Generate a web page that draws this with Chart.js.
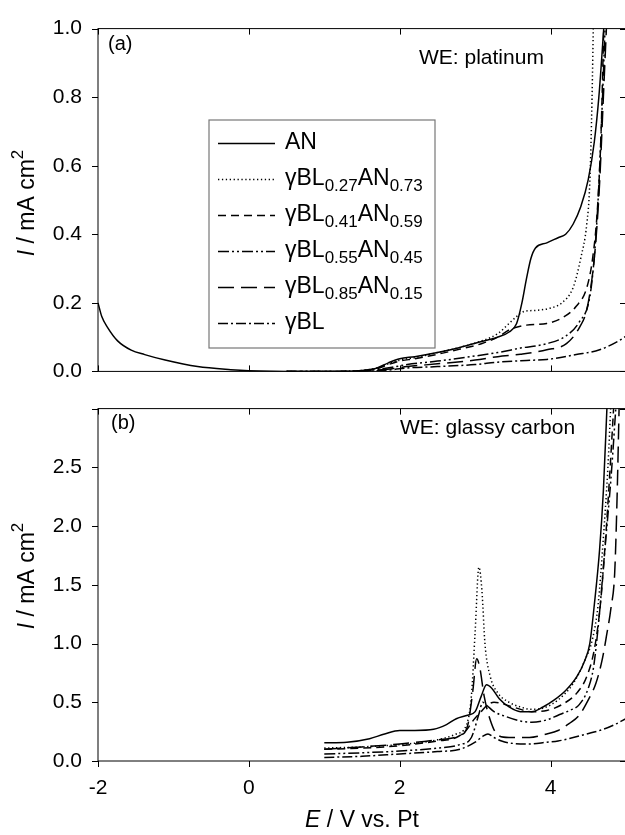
<!DOCTYPE html>
<html>
<head>
<meta charset="utf-8">
<script src="https://cdn.jsdelivr.net/npm/chart.js@4.4.1/dist/chart.umd.min.js"></script>
<style>
  html, body { margin: 0; padding: 0; background: #fff; overflow: hidden; }
  #wrap { position: relative; width: 625px; height: 835px; overflow: hidden; }
  canvas { position: absolute; left: 0; }
</style>
</head>
<body>
<div id="wrap">
  <canvas id="panelA" width="632" height="400" style="top:0"></canvas>
  <canvas id="panelB" width="632" height="455" style="top:380px"></canvas>
</div>
<script>
/* データ */
const xTicks = [-2, 0, 2, 4];
const yTicksA = [0, 0.2, 0.4, 0.6, 0.8, 1.0];
const yTicksB = [0, 0.5, 1.0, 1.5, 2.0, 2.5, 3.0];

const seriesLabels = ['AN', 'γBL_{0.27}AN_{0.73}', 'γBL_{0.41}AN_{0.59}',
                      'γBL_{0.55}AN_{0.45}', 'γBL_{0.85}AN_{0.15}', 'γBL'];

// (a) WE: platinum
const E_AN_a = [-2,-1.95,-1.87,-1.74,-1.56,-1.38,-1.11,-0.68,-0.24,0,0.65,1.2,1.5,1.7,1.85,2.0,2.2,2.5,2.8,3.1,3.3,3.45,3.55,3.62,3.68,3.74,3.8,3.95,4.1,4.2,4.3,4.4,4.5,4.58,4.64,4.68,4.72];
const I_AN_a = [0.20,0.16,0.127,0.089,0.062,0.049,0.033,0.014,0.005,0.002,0.0,0.0,0.003,0.01,0.025,0.037,0.043,0.055,0.07,0.088,0.10,0.115,0.14,0.20,0.27,0.33,0.36,0.375,0.39,0.40,0.43,0.48,0.56,0.67,0.80,0.92,1.05];
const E_27_a = [0.5,1.2,1.5,1.7,1.85,2.0,2.2,2.5,2.8,3.1,3.3,3.45,3.55,3.65,3.8,4.0,4.15,4.3,4.4,4.48,4.52,4.55,4.57];
const I_27_a = [0,0,0.003,0.01,0.022,0.033,0.04,0.055,0.07,0.09,0.11,0.14,0.16,0.175,0.178,0.185,0.2,0.245,0.33,0.43,0.55,0.8,1.05];
const E_41_a = [0.5,1.2,1.5,1.7,1.85,2.0,2.2,2.5,2.8,3.1,3.3,3.46,3.68,3.95,4.16,4.34,4.48,4.56,4.62,4.67,4.71];
const I_41_a = [0,0,0.002,0.008,0.02,0.03,0.037,0.05,0.065,0.082,0.1,0.122,0.135,0.14,0.157,0.19,0.244,0.334,0.47,0.7,1.05];
const E_55_a = [0.5,1.3,1.6,1.9,2.1,2.5,3.0,3.3,3.6,3.95,4.2,4.38,4.52,4.58,4.63,4.68,4.73];
const I_55_a = [0,0,0.003,0.012,0.02,0.03,0.045,0.055,0.068,0.081,0.103,0.144,0.217,0.334,0.5,0.75,1.05];
const E_85_a = [0.5,1.3,1.6,1.9,2.1,2.5,3.0,3.3,3.6,3.95,4.21,4.38,4.48,4.56,4.6,4.65,4.7,4.75];
const I_85_a = [0,0,0.002,0.008,0.014,0.022,0.033,0.043,0.05,0.063,0.081,0.127,0.18,0.29,0.38,0.55,0.8,1.05];
const E_BL_a = [0.5,1.3,1.6,1.9,2.1,2.5,3.0,3.3,3.68,3.95,4.34,4.65,4.91,5.0];
const I_BL_a = [0,0,0.001,0.005,0.01,0.014,0.02,0.027,0.032,0.035,0.049,0.063,0.09,0.103];

// (b) WE: glassy carbon
const E_AN_b = [1.0,1.3,1.6,1.8,2.0,2.2,2.45,2.62,2.75,2.9,3.0,3.08,3.15,3.22,3.32,3.45,3.6,3.75,3.9,4.05,4.2,4.35,4.45,4.52,4.58,4.65,4.7,4.75];
const I_AN_b = [0.155,0.16,0.19,0.23,0.26,0.26,0.27,0.31,0.36,0.39,0.42,0.55,0.65,0.62,0.53,0.46,0.42,0.42,0.46,0.52,0.6,0.72,0.85,1.0,1.33,1.8,2.3,3.05];
const E_27_b = [1.0,1.5,2.0,2.5,2.75,2.88,2.95,3.0,3.05,3.09,3.13,3.2,3.3,3.45,3.6,3.75,3.9,4.1,4.3,4.45,4.56,4.63,4.7,4.76,4.8];
const I_27_b = [0.11,0.12,0.14,0.18,0.23,0.3,0.55,1.1,1.65,1.45,1.0,0.72,0.58,0.5,0.46,0.44,0.45,0.52,0.66,0.85,1.05,1.33,1.9,2.5,3.05];
const E_41_b = [1.0,1.5,2.0,2.5,2.75,2.88,2.98,3.08,3.15,3.25,3.4,3.55,3.75,3.95,4.15,4.35,4.48,4.58,4.66,4.73,4.79,4.84];
const I_41_b = [0.1,0.11,0.13,0.17,0.2,0.26,0.35,0.42,0.47,0.5,0.48,0.45,0.42,0.43,0.48,0.58,0.72,0.95,1.33,1.9,2.5,3.05];
const E_55_b = [1.0,1.5,2.0,2.5,2.8,2.95,3.05,3.1,3.16,3.25,3.4,3.6,3.75,3.95,4.1,4.25,4.38,4.5,4.57,4.64,4.72,4.8,4.87];
const I_55_b = [0.06,0.07,0.085,0.11,0.14,0.2,0.4,0.5,0.47,0.42,0.38,0.34,0.33,0.35,0.39,0.43,0.48,0.62,0.8,1.2,1.8,2.4,3.05];
const E_85_b = [1.0,1.5,2.0,2.5,2.8,2.9,2.97,3.02,3.06,3.12,3.2,3.3,3.45,3.72,3.95,4.1,4.25,4.38,4.5,4.6,4.68,4.74,4.8,4.85,4.88,4.91];
const I_85_b = [0.1,0.12,0.145,0.18,0.22,0.3,0.6,0.87,0.8,0.55,0.35,0.22,0.2,0.2,0.23,0.26,0.32,0.39,0.52,0.66,0.85,1.06,1.3,1.6,2.2,3.05];
const E_BL_b = [1.0,1.5,2.0,2.5,2.8,3.0,3.1,3.17,3.25,3.35,3.5,3.72,3.95,4.1,4.3,4.48,4.7,4.85,5.0];
const I_BL_b = [0.03,0.04,0.06,0.08,0.1,0.16,0.21,0.23,0.2,0.17,0.15,0.145,0.16,0.17,0.2,0.23,0.27,0.31,0.36];

/* 線種 */
const dashes = [[], [1.3, 2.6], [8, 5], [11, 3, 2, 3, 2, 3], [16, 7], [10, 3, 2, 3]];
const FONT = '"Liberation Sans", Arial, Helvetica, sans-serif';

function pts(E, I) {
    return E.map((e, i) => ({ x: e, y: I[i] }));
}

function makeSets(pairs) {
    return pairs.map(([E, I], k) => ({
        label: seriesLabels[k],
        data: pts(E, I),
        borderColor: '#000',
        borderWidth: 1.5,
        borderDash: dashes[k],
        pointRadius: 0,
        cubicInterpolationMode: 'monotone',
        fill: false
    }));
}

/* 'γBL_{0.27}AN_{0.73}' -> 部分ごとの配列 */
function parseRich(str) {
    const out = [];
    const re = /_\{([^}]*)\}|\^\{([^}]*)\}|\*([^*]*)\*|([^_^*]+)/g;
    let m;
    while ((m = re.exec(str))) {
        if (m[1] !== undefined) out.push({ t: m[1], mode: 'sub' });
        else if (m[2] !== undefined) out.push({ t: m[2], mode: 'sup' });
        else if (m[3] !== undefined) out.push({ t: m[3], mode: 'it' });
        else out.push({ t: m[4], mode: '' });
    }
    return out;
}

function drawRich(ctx, str, x, y, size, align) {
    const parts = parseRich(str);
    const small = Math.round(size * 0.72);
    const fontOf = p => (p.mode === 'it' ? 'italic ' : '') +
        ((p.mode === 'sub' || p.mode === 'sup') ? small : size) + 'px ' + FONT;
    let w = 0;
    parts.forEach(p => { ctx.font = fontOf(p); w += ctx.measureText(p.t).width; });
    let cx = align === 'center' ? x - w / 2 : x;
    ctx.textBaseline = 'middle';
    ctx.textAlign = 'left';
    parts.forEach(p => {
        ctx.font = fontOf(p);
        let dy = 0;
        if (p.mode === 'sub') dy = size * 0.33;
        if (p.mode === 'sup') dy = -size * 0.42;
        ctx.fillText(p.t, cx, y + dy);
        cx += ctx.measureText(p.t).width;
    });
}

/* 枠と目盛り */
const framePlugin = {
    id: 'frame',
    afterDraw(chart, args, opts) {
        const { ctx, chartArea: a, scales: { x, y } } = chart;
        const tl = 6;
        ctx.save();
        ctx.strokeStyle = '#000';
        ctx.lineWidth = 1;
        ctx.strokeRect(a.left, a.top, a.right - a.left, a.bottom - a.top);
        ctx.beginPath();
        x.ticks.forEach(t => {
            const px = Math.round(x.getPixelForValue(t.value)) + 0.5;
            ctx.moveTo(px, a.top); ctx.lineTo(px, a.top + tl);
            if (opts.bottomOut) { ctx.moveTo(px, a.bottom); ctx.lineTo(px, a.bottom + tl); }
            else { ctx.moveTo(px, a.bottom); ctx.lineTo(px, a.bottom - tl); }
        });
        y.ticks.forEach(t => {
            const py = Math.round(y.getPixelForValue(t.value)) + 0.5;
            ctx.moveTo(a.left - tl, py); ctx.lineTo(a.left, py);
            ctx.moveTo(a.right - tl, py); ctx.lineTo(a.right, py);
        });
        ctx.stroke();
        ctx.restore();
    }
};

/* 文字注記・軸タイトル・凡例 */
const notesPlugin = {
    id: 'notes',
    afterDraw(chart, args, opts) {
        const ctx = chart.ctx;
        ctx.save();
        ctx.fillStyle = '#000';
        (opts.texts || []).forEach(n => drawRich(ctx, n.text, n.x, n.y, n.size, n.align));
        if (opts.yTitle) {
            ctx.save();
            ctx.translate(opts.yTitle.x, opts.yTitle.y);
            ctx.rotate(-Math.PI / 2);
            drawRich(ctx, opts.yTitle.text, 0, 0, opts.yTitle.size, 'center');
            ctx.restore();
        }
        const lg = opts.legend;
        if (lg) {
            ctx.strokeStyle = '#777';
            ctx.lineWidth = 1.2;
            ctx.strokeRect(lg.left, lg.top, lg.right - lg.left, lg.bottom - lg.top);
            chart.data.datasets.forEach((ds, i) => {
                const ry = lg.firstRow + i * lg.rowGap;
                ctx.save();
                ctx.strokeStyle = '#000';
                ctx.lineWidth = ds.borderWidth;
                ctx.setLineDash(ds.borderDash);
                ctx.beginPath();
                ctx.moveTo(lg.lineX0, ry + 0.5);
                ctx.lineTo(lg.lineX1, ry + 0.5);
                ctx.stroke();
                ctx.restore();
                drawRich(ctx, ds.label, lg.textX, ry, lg.size, 'left');
            });
        }
        ctx.restore();
    }
};

function makePanel(id, datasets, cfg) {
    return new Chart(document.getElementById(id), {
        type: 'line',
        data: { datasets: datasets },
        plugins: [framePlugin, notesPlugin],
        options: {
            responsive: false,
            animation: false,
            devicePixelRatio: 1,
            layout: { padding: cfg.padding },
            events: [],
            plugins: {
                legend: { display: false },
                tooltip: { enabled: false },
                frame: { bottomOut: cfg.bottomOut },
                notes: cfg.notes
            },
            scales: {
                x: {
                    type: 'linear',
                    min: -2, max: 5,
                    afterBuildTicks: s => { s.ticks = xTicks.map(v => ({ value: v })); },
                    afterFit: s => { s.height = cfg.xHeight; },
                    grid: { display: false, drawTicks: false },
                    border: { display: false },
                    ticks: {
                        display: cfg.xLabels,
                        padding: 15,
                        color: '#000',
                        font: { family: FONT, size: 21 },
                        callback: v => String(v)
                    }
                },
                y: {
                    type: 'linear',
                    min: 0, max: cfg.yMax,
                    afterBuildTicks: s => { s.ticks = cfg.yTicks.map(v => ({ value: v })); },
                    afterFit: s => { s.width = 98; },
                    grid: { display: false, drawTicks: false },
                    border: { display: false },
                    ticks: {
                        padding: 16,
                        color: '#000',
                        font: { family: FONT, size: 21 },
                        callback: v => (v >= cfg.yMax - 1e-9 && cfg.hideTop) ? '' : v.toFixed(1)
                    }
                }
            }
        }
    });
}

makePanel('panelA', makeSets([
    [E_AN_a, I_AN_a], [E_27_a, I_27_a], [E_41_a, I_41_a],
    [E_55_a, I_55_a], [E_85_a, I_85_a], [E_BL_a, I_BL_a]
]), {
    padding: { top: 21, right: 6, bottom: 10, left: 0 },
    xHeight: 0, xLabels: false, yMax: 1.0, yTicks: yTicksA, hideTop: false, bottomOut: false,
    notes: {
        texts: [
            { text: '(a)', x: 108, y: 44, size: 20, align: 'left' },
            { text: 'WE: platinum', x: 419, y: 58, size: 21, align: 'left' }
        ],
        yTitle: { text: '*I* / mA cm^{2}', x: 28, y: 203, size: 23 },
        legend: {
            left: 209, top: 120, right: 435, bottom: 348,
            firstRow: 143, rowGap: 36, lineX0: 218, lineX1: 275, textX: 285, size: 23
        }
    }
});

makePanel('panelB', makeSets([
    [E_AN_b, I_AN_b], [E_27_b, I_27_b], [E_41_b, I_41_b],
    [E_55_b, I_55_b], [E_85_b, I_85_b], [E_BL_b, I_BL_b]
]), {
    padding: { top: 10, right: 6, bottom: 0, left: 0 },
    xHeight: 74, xLabels: true, yMax: 3.0, yTicks: yTicksB, hideTop: true, bottomOut: true,
    notes: {
        texts: [
            { text: '(b)', x: 111, y: 43, size: 20, align: 'left' },
            { text: 'WE: glassy carbon', x: 400, y: 48, size: 21, align: 'left' },
            { text: '*E* / V vs. Pt', x: 362, y: 441, size: 23, align: 'center' }
        ],
        yTitle: { text: '*I* / mA cm^{2}', x: 28, y: 196, size: 23 }
    }
});
</script>
</body>
</html>
